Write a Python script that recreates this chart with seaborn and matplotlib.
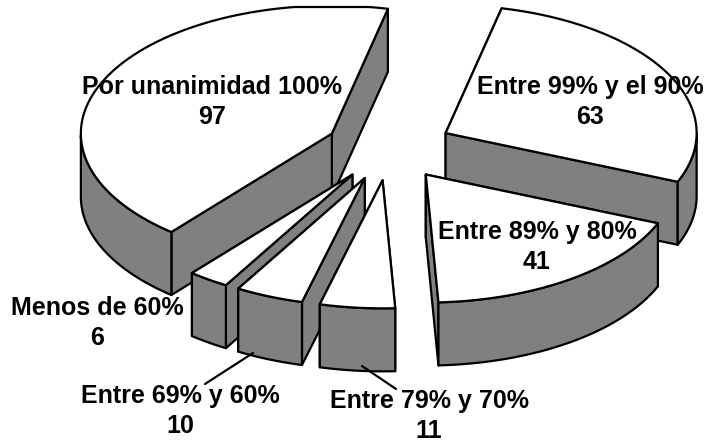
import numpy as np
import matplotlib
matplotlib.use("Agg")
import matplotlib.pyplot as plt
from matplotlib.patches import Polygon
import seaborn as sns

labels = ["Entre 99% y el 90%", "Entre 89% y 80%", "Entre 79% y 70%",
          "Entre 69% y 60%", "Menos de 60%", "Por unanimidad 100%"]
values = [63, 41, 11, 10, 6, 97]

W, H = 707, 443
CX, CY, RX, RY = 389, 148, 251, 128
EXPLODE, DEPTH, START, TOP = 0.254, 63, 12.9, 7
SIDE = "#808080"
LW = 1.6

label_xy = {"Entre 99% y el 90%": (590, 102), "Entre 89% y 80%": (537, 247),
            "Entre 79% y 70%": (429, 416), "Entre 69% y 60%": (180, 411),
            "Menos de 60%": (97, 323), "Por unanimidad 100%": (212, 102)}
leaders = [((253, 353), (205, 384)), ((362, 366), (396, 389))]

sns.set_theme(style="white")
plt.rcParams["font.family"] = ["Liberation Sans", "DejaVu Sans"]
fig = plt.figure(figsize=(W / 100, H / 100), dpi=100)
ax = fig.add_axes([0, 0, 1, 1])
ax.set_xlim(0, W)
ax.set_ylim(H, 0)
ax.axis("off")


def proj(theta):
    t = np.radians(theta)
    return RX * np.sin(t), -RY * np.cos(t)


spans = np.array(values) / sum(values) * 360
starts = START + np.concatenate([[0], np.cumsum(spans)[:-1]])

slices = []
for s, sp in zip(starts, spans):
    mx, my = proj(s + sp / 2)
    ox, oy = CX + EXPLODE * mx, CY + EXPLODE * my
    th = np.linspace(s, s + sp, max(int(sp), 3))
    ex, ey = proj(th)
    front = th[np.cos(np.radians(th)) < 0]
    if front.size >= 2:
        fx, fy = proj(front)
        band = (ox + fx, oy + fy)
    else:
        band = None
    slices.append((oy, ox, ox + ex, np.maximum(oy + ey, TOP), band))


def poly(xs, ys, fc, z):
    ax.add_patch(Polygon(np.column_stack([xs, ys]), closed=True, fc=fc, ec="black",
                         lw=LW, joinstyle="round", zorder=z))


z = 1
for oy, ox, xs, ys, band in sorted(slices, key=lambda q: q[0]):
    quads = [([ox, xs[0], xs[0], ox], [oy, ys[0], ys[0] + DEPTH, oy + DEPTH]),
             ([ox, xs[-1], xs[-1], ox], [oy, ys[-1], ys[-1] + DEPTH, oy + DEPTH])]
    quads.sort(key=lambda q: np.mean(q[1]))
    for qx, qy in quads:
        poly(qx, qy, SIDE, z)
        z += 1
    if band is not None:
        bx, by = band
        poly(np.r_[bx, bx[::-1]], np.r_[by, by[::-1] + DEPTH], SIDE, z)
        z += 1
    poly(np.r_[ox, xs], np.r_[oy, ys], "white", z)
    z += 1

for (a, b) in leaders:
    ax.plot([a[0], b[0]], [a[1], b[1]], color="black", lw=LW, zorder=z)

for lab, val in zip(labels, values):
    x, y = label_xy[lab]
    ax.text(x, y, f"{lab}\n{val}", ha="center", va="center", fontsize=18,
            fontweight="bold", color="black", linespacing=1.27, zorder=z + 1)

fig.savefig("out.png", dpi=100)
